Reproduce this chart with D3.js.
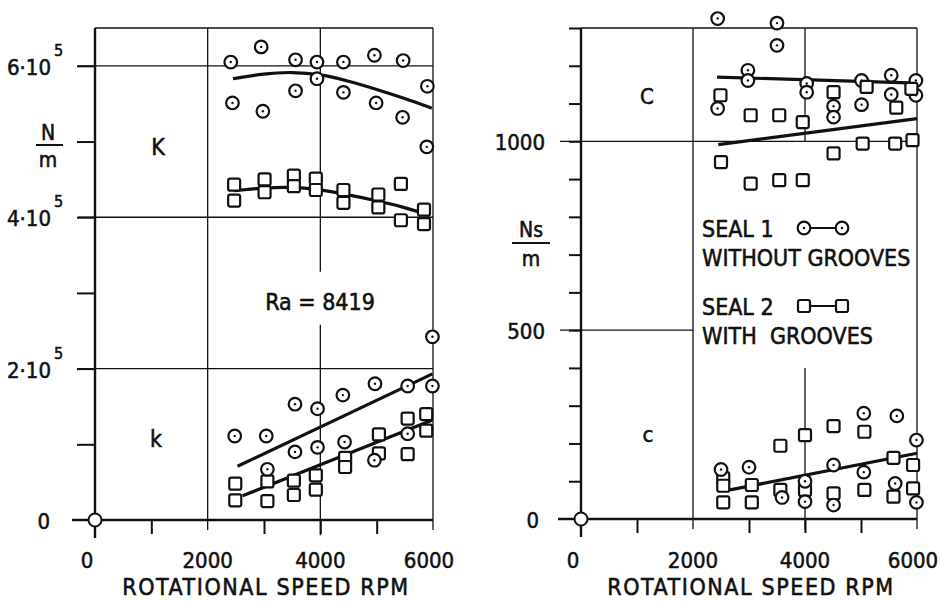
<!DOCTYPE html>
<html>
<head>
<meta charset="utf-8">
<script src="https://cdn.jsdelivr.net/npm/d3@7"></script>
<style>
  body { margin: 0; background: #fff; }
  text { font-family: "DejaVu Sans Condensed", "Liberation Sans Narrow", sans-serif; fill: #111; stroke: #111; stroke-width: 0.55; }
</style>
</head>
<body>
<svg id="chart" width="940" height="601"></svg>
<script>
// ---- data (rpm, value) ----
// left panel values in units of 1e5 N/m, right panel in Ns/m
const rpmTicks = [0, 2000, 4000, 6000];
const rpmMinor = [1000, 3000, 5000];
const stiffTicks = [0, 1, 2, 3, 4, 5, 6];
const stiffLabels = [{v: 0, t: '0'}, {v: 2, t: '2·10', e: '5'}, {v: 4, t: '4·10', e: '5'}, {v: 6, t: '6·10', e: '5'}];
const dampTicks = d3.range(0, 1301, 100);
const dampLabels = [0, 500, 1000];

// K, seal 1 (circles) and seal 2 (squares)
const K1 = [[2410, 6.05], [2950, 6.25], [3560, 6.08], [3940, 6.05], [4410, 6.05], [4960, 6.14], [5470, 6.07],
            [2440, 5.51], [2980, 5.40], [3560, 5.67], [3940, 5.83], [4410, 5.65], [4990, 5.51], [5460, 5.32],
            [5900, 5.73], [5890, 4.93]];
const K1fit = [[2450, 5.83], [3000, 5.90], [3500, 5.92], [4000, 5.89], [4500, 5.80], [5000, 5.69], [5500, 5.57], [5980, 5.44]];
const K2 = [[2470, 4.43], [2470, 4.22], [3010, 4.50], [3010, 4.33], [3530, 4.55], [3530, 4.41], [3920, 4.51], [3920, 4.36],
            [4410, 4.36], [4410, 4.19], [5030, 4.30], [5030, 4.13], [5430, 4.44], [5430, 3.96], [5840, 4.10], [5840, 3.91]];
const K2fit = [[2470, 4.35], [3000, 4.39], [3500, 4.40], [3950, 4.37], [4400, 4.31], [5000, 4.22], [5450, 4.14], [5880, 4.04]];

// k, seal 1 and seal 2
const k1 = [[2480, 1.11], [3040, 1.11], [3550, 1.53], [3950, 1.47], [4400, 1.65], [4970, 1.80], [5550, 1.77],
            [5990, 1.77], [5990, 2.42], [3550, 0.90], [3950, 0.96], [4430, 1.03], [3060, 0.67], [4960, 0.79], [5550, 1.14]];
const k1fit = [[2530, 0.71], [5990, 1.93]];
const k2 = [[2490, 0.48], [2490, 0.26], [3060, 0.51], [3060, 0.25], [3530, 0.52], [3530, 0.33], [3920, 0.59], [3920, 0.40],
            [4440, 0.82], [4440, 0.70], [5040, 1.13], [5040, 0.88], [5550, 1.34], [5550, 0.87], [5880, 1.40], [5880, 1.18]];
const k2fit = [[2620, 0.32], [5990, 1.32]];

// C, seal 1 and seal 2
const C1 = [[2440, 1325], [3500, 1313], [3500, 1254], [2980, 1188], [2980, 1161], [2440, 1087], [4030, 1153], [4030, 1130],
            [4510, 1093], [4510, 1064], [5010, 1161], [5010, 1097], [5540, 1175], [5540, 1124], [5980, 1161], [5980, 1122]];
const C1fit = [[2430, 1170], [6000, 1154]];
const C2 = [[2490, 1122], [3030, 1069], [3540, 1069], [3960, 1051], [4510, 1130], [5100, 1144], [5630, 1089], [5900, 1139],
            [2500, 945], [3030, 888], [3540, 897], [3960, 897], [4510, 968], [5030, 994], [5610, 994], [5920, 1003]];
const C2fit = [[2450, 991], [6000, 1060]];

// c, seal 1 and seal 2 (one common fit)
const c1 = [[2500, 131], [3000, 137], [3590, 57], [4000, 100], [4000, 46], [4510, 143], [4510, 37], [5050, 280],
            [5050, 124], [5640, 273], [5610, 94], [5990, 209], [5990, 44]];
const c2 = [[2540, 108], [2540, 88], [2540, 44], [3050, 90], [3050, 44], [3560, 194], [3560, 77], [4000, 222], [4000, 77],
            [4510, 246], [4510, 68], [5060, 231], [5060, 77], [5580, 162], [5580, 59], [5930, 143], [5930, 81]];
const cFit = [[2660, 77], [6000, 174]];

const svg = d3.select('#chart');

const makePanel = cfg => {
  const g = svg.append('g');
  const x = d3.scaleLinear().domain([0, 6000]).range(cfg.xRange);
  const y = d3.scaleLinear().domain(cfg.yDomain).range([cfg.yZero, 28]);
  const top = cfg.yDomain[1];

  // grid
  cfg.hGrid.forEach(h => {
    g.append('line').attr('x1', cfg.tickX).attr('x2', x(h.to)).attr('y1', y(h.v)).attr('y2', y(h.v))
      .attr('stroke', '#111').attr('stroke-width', 1.3);
  });
  g.append('line').attr('x1', x(0)).attr('x2', x(6000)).attr('y1', y(top)).attr('y2', y(top))
    .attr('stroke', '#111').attr('stroke-width', 1.3);
  [2000, 6000].forEach(v => {
    g.append('line').attr('x1', x(v)).attr('x2', x(v)).attr('y1', y(top)).attr('y2', y(0) + 10)
      .attr('stroke', '#111').attr('stroke-width', 1.3);
  });
  cfg.midSegs.forEach(s => {
    g.append('line').attr('x1', x(4000)).attr('x2', x(4000)).attr('y1', y(s[0])).attr('y2', y(s[1]))
      .attr('stroke', '#111').attr('stroke-width', 1.3);
  });

  // axes
  g.append('g').attr('transform', `translate(${x(0)},0)`)
    .call(d3.axisLeft(y).tickValues(cfg.yTicks).tickSize(cfg.tickLen).tickFormat(''))
    .call(a => a.select('.domain').remove())
    .call(a => a.selectAll('line').attr('stroke', '#111').attr('stroke-width', 2));
  g.append('g').attr('transform', `translate(0,${y(0)})`)
    .call(d3.axisBottom(x).tickValues(rpmMinor.concat([4000])).tickSize(14).tickFormat(''))
    .call(a => a.select('.domain').remove())
    .call(a => a.selectAll('line').attr('stroke', '#111').attr('stroke-width', 2));
  g.append('line').attr('x1', x(0)).attr('x2', x(0)).attr('y1', y(top)).attr('y2', y(0) + 18)
    .attr('stroke', '#111').attr('stroke-width', 2.4);
  g.append('line').attr('x1', cfg.axisLeft).attr('x2', x(6000)).attr('y1', y(0)).attr('y2', y(0))
    .attr('stroke', '#111').attr('stroke-width', 2.4);
  g.append('circle').attr('cx', x(0)).attr('cy', y(0)).attr('r', 6.5)
    .attr('fill', '#fff').attr('stroke', '#111').attr('stroke-width', 2);

  g.selectAll('text.xt').data(rpmTicks).enter().append('text')
    .attr('class', 'xt')
    .attr('x', d => x(d) + (d === 0 ? -8 : 0) + (d === 6000 ? -4 : 0))
    .attr('y', 568).attr('text-anchor', 'middle').attr('font-size', 22)
    .text(d => d);
  g.append('text').attr('x', (x(0) + x(6000)) / 2 + 2).attr('y', 595)
    .attr('text-anchor', 'middle').attr('font-size', 23).attr('letter-spacing', 1.6)
    .text('ROTATIONAL SPEED RPM');

  return {g, x, y};
};

const fitLine = (p, data, curve) => {
  p.g.append('path').datum(data)
    .attr('d', d3.line().x(d => p.x(d[0])).y(d => p.y(d[1])).curve(curve || d3.curveLinear))
    .attr('fill', 'none').attr('stroke', '#111').attr('stroke-width', 3.2);
};

const circles = (p, data) => {
  const s = p.g.append('g').selectAll('g').data(data).enter().append('g')
    .attr('transform', d => `translate(${p.x(d[0])},${p.y(d[1])})`);
  s.append('circle').attr('r', 6.3).attr('fill', '#fff').attr('stroke', '#111').attr('stroke-width', 2.2);
  s.append('circle').attr('r', 1.2).attr('fill', '#111');
};

const squares = (p, data) => {
  p.g.append('g').selectAll('rect').data(data).enter().append('rect')
    .attr('x', d => p.x(d[0]) - 6).attr('y', d => p.y(d[1]) - 6)
    .attr('width', 12).attr('height', 12).attr('rx', 2)
    .attr('fill', '#fff').attr('stroke', '#111').attr('stroke-width', 2.2);
};

// ---- left panel: stiffness ----
const L = makePanel({
  xRange: [95, 433], yDomain: [0, 6.5], yZero: 520,
  yTicks: stiffTicks.slice(1), tickLen: 18, tickX: 78, axisLeft: 72,
  hGrid: [{v: 2, to: 6000}, {v: 4, to: 6000}, {v: 6, to: 6000}],
  midSegs: [[6.5, 3.28], [2.58, -0.2]]
});

stiffLabels.forEach(l => {
  L.g.append('text').attr('x', l.e ? 51 : 50).attr('y', L.y(l.v) + 9)
    .attr('text-anchor', 'end').attr('font-size', 22).text(l.t);
  if (l.e) {
    L.g.append('text').attr('x', 54).attr('y', L.y(l.v) - 10).attr('font-size', 16).text(l.e);
  }
});
L.g.append('text').attr('x', 48).attr('y', 140).attr('text-anchor', 'middle').attr('font-size', 21).text('N');
L.g.append('line').attr('x1', 36).attr('x2', 63).attr('y1', 145).attr('y2', 145).attr('stroke', '#111').attr('stroke-width', 2);
L.g.append('text').attr('x', 48).attr('y', 167).attr('text-anchor', 'middle').attr('font-size', 21).text('m');
L.g.append('text').attr('x', 158).attr('y', 155).attr('text-anchor', 'middle').attr('font-size', 23).text('K');
L.g.append('text').attr('x', 156).attr('y', 447).attr('text-anchor', 'middle').attr('font-size', 23).text('k');
L.g.append('text').attr('x', 320).attr('y', 310).attr('text-anchor', 'middle').attr('font-size', 23).text('Ra = 8419');

fitLine(L, K1fit, d3.curveBasis);
fitLine(L, K2fit, d3.curveBasis);
fitLine(L, k1fit);
fitLine(L, k2fit);
circles(L, K1);
squares(L, K2);
squares(L, k2);
circles(L, k1);

// ---- right panel: damping ----
const R = makePanel({
  xRange: [581, 917], yDomain: [0, 1300], yZero: 519,
  yTicks: dampTicks.slice(1), tickLen: 12, tickX: 560, axisLeft: 558,
  hGrid: [{v: 1000, to: 6000}, {v: 500, to: 2000}],
  midSegs: [[1300, 1000], [400, -30]]
});

dampLabels.forEach(v => {
  R.g.append('text').attr('x', v === 0 ? 539 : 545).attr('y', R.y(v) + 9)
    .attr('text-anchor', 'end').attr('font-size', 22).text(v);
});
R.g.append('text').attr('x', 531).attr('y', 237).attr('text-anchor', 'middle').attr('font-size', 21).text('Ns');
R.g.append('line').attr('x1', 512).attr('x2', 550).attr('y1', 243).attr('y2', 243).attr('stroke', '#111').attr('stroke-width', 2);
R.g.append('text').attr('x', 531).attr('y', 266).attr('text-anchor', 'middle').attr('font-size', 21).text('m');
R.g.append('text').attr('x', 647).attr('y', 104).attr('text-anchor', 'middle').attr('font-size', 22).text('C');
R.g.append('text').attr('x', 648).attr('y', 442).attr('text-anchor', 'middle').attr('font-size', 22).text('c');

fitLine(R, C1fit);
fitLine(R, C2fit);
fitLine(R, cFit);
circles(R, C1);
squares(R, C2);
squares(R, c2);
circles(R, c1);

// legend
const legend = [
  {t1: 'SEAL 1', t2: 'WITHOUT GROOVES', y: 228, mark: 'c'},
  {t1: 'SEAL 2', t2: 'WITH  GROOVES', y: 306, mark: 's'}
];
legend.forEach(l => {
  R.g.append('text').attr('x', 702).attr('y', l.y + 9).attr('font-size', 23).text(l.t1);
  R.g.append('text').attr('x', 702).attr('y', l.y + 38).attr('font-size', 23)
    .style('white-space', 'pre').text(l.t2);
  R.g.append('line').attr('x1', 804).attr('x2', 842).attr('y1', l.y).attr('y2', l.y)
    .attr('stroke', '#111').attr('stroke-width', 2);
  [804, 842].forEach(cx => {
    if (l.mark === 'c') {
      R.g.append('circle').attr('cx', cx).attr('cy', l.y).attr('r', 6.3)
        .attr('fill', '#fff').attr('stroke', '#111').attr('stroke-width', 2.2);
      R.g.append('circle').attr('cx', cx).attr('cy', l.y).attr('r', 1.2).attr('fill', '#111');
    } else {
      R.g.append('rect').attr('x', cx - 6).attr('y', l.y - 6).attr('width', 12).attr('height', 12).attr('rx', 2)
        .attr('fill', '#fff').attr('stroke', '#111').attr('stroke-width', 2.2);
    }
  });
});
</script>
</body>
</html>
